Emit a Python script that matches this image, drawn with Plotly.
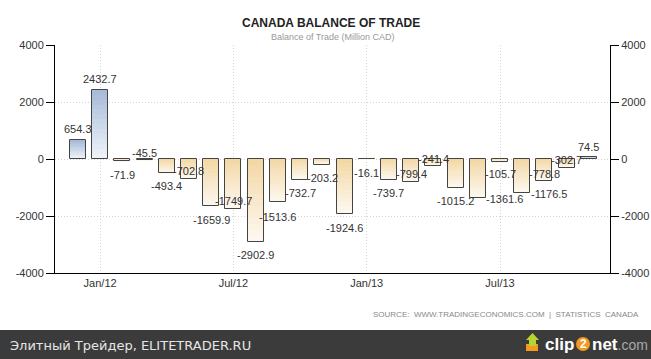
import plotly.graph_objects as go

# ---------------- data ----------------
months = ["Dec/11", "Jan/12", "Feb/12", "Mar/12", "Apr/12", "May/12", "Jun/12",
          "Jul/12", "Aug/12", "Sep/12", "Oct/12", "Nov/12", "Dec/12", "Jan/13",
          "Feb/13", "Mar/13", "Apr/13", "May/13", "Jun/13", "Jul/13", "Aug/13",
          "Sep/13", "Oct/13", "Nov/13"]
values = [654.3, 2432.7, -71.9, -45.5, -493.4, -702.8, -1659.9, -1749.7,
          -2902.9, -1513.6, -732.7, -203.2, -1924.6, -16.1, -739.7, -799.4,
          -241.4, -1015.2, -1361.6, -105.7, -1176.5, -778.8, -302.7, 74.5]
x_ticks = ["Jan/12", "Jul/12", "Jan/13", "Jul/13"]
y_ticks = [-4000, -2000, 0, 2000, 4000]

# label placement (pixel shifts relative to bar end), styling only
label_dx = [0, 0, 0, 0, 0, 0, 0, 0, 0, 0, 0, 0, 0, 0, 0, 0, 0, 0, 27, 0, 27, 0, 0, 0]
label_dy = [11, 11, -14, 7, -13, 8, -14, 8, -13, -15, -13, -13, -14, -14, -13, 8,
            7, -13, -1, -12, -1, 7, 8, 10]

# ---------------- geometry helpers (figure pixels -> paper) ----------------
W, H = 651, 359
L, R, T, B = 55, 41, 45, 86
PW, PH = W - L - R, H - T - B


def px(x):
    return (x - L) / PW


def py(y):
    return (H - B - y) / PH


def lerp(c1, c2, t):
    return "rgb(%d,%d,%d)" % tuple(round(a + (b - a) * t) for a, b in zip(c1, c2))


POS_TOP, POS_BOT = (165, 185, 215), (240, 244, 250)
NEG_TOP, NEG_BOT = (243, 215, 163), (253, 249, 242)

fig = go.Figure()

# gradient fill built from slices of each bar
N = 14
for k in range(N):
    t = (k + 0.5) / N
    bases, heights, colors = [], [], []
    for v in values:
        if v >= 0:
            bases.append(v * (1 - (k + 1) / N))
            colors.append(lerp(POS_TOP, POS_BOT, t))
        else:
            bases.append(v * k / N)
            colors.append(lerp(NEG_TOP, NEG_BOT, t))
        heights.append(v / N)
    fig.add_trace(go.Bar(x=months, y=heights, base=bases, width=0.72,
                         marker=dict(color=colors, line=dict(width=0)),
                         hoverinfo="skip", showlegend=False))

# outline
fig.add_trace(go.Bar(x=months, y=values, width=0.72,
                     marker=dict(color="rgba(0,0,0,0)",
                                 line=dict(color="#444444", width=1)),
                     showlegend=False))

# dummy trace for right axis
fig.add_trace(go.Scatter(x=months[:1], y=values[:1], yaxis="y2", mode="markers",
                         marker=dict(opacity=0), hoverinfo="skip", showlegend=False))

# data labels
for m, v, dx, dy in zip(months, values, label_dx, label_dy):
    fig.add_annotation(x=m, y=v, text=f"{v:.1f}", showarrow=False,
                       xanchor="center", yanchor="middle", xshift=dx, yshift=dy,
                       font=dict(family="Liberation Sans, Arial", size=11, color="#333"))

axis_font = dict(family="Liberation Sans, Arial", size=11, color="#333")
GRID = "#d4d4d4"

fig.update_layout(
    width=W, height=H,
    margin=dict(l=L, r=R, t=T, b=B, autoexpand=False),
    paper_bgcolor="white", plot_bgcolor="white",
    barmode="overlay", bargap=0,
    xaxis=dict(type="category", categoryorder="array", categoryarray=months,
               range=[-1.03, 23.95], tickvals=x_ticks, ticktext=x_ticks,
               showgrid=True, gridcolor=GRID, griddash="1px,2px", gridwidth=1,
               showline=True, linecolor="#000", linewidth=1,
               ticks="", tickfont=axis_font, zeroline=False, fixedrange=True),
    yaxis=dict(range=[-4000, 4000], tickvals=y_ticks, ticktext=[str(t) for t in y_ticks],
               showgrid=True, gridcolor=GRID, griddash="1px,2px", gridwidth=1,
               showline=True, linecolor="#000", linewidth=1,
               ticks="outside", ticklen=8, tickcolor="#000", tickwidth=1,
               tickfont=axis_font, zeroline=False, fixedrange=True),
    yaxis2=dict(range=[-4000, 4000], overlaying="y", side="right",
                tickvals=y_ticks, ticktext=[str(t) for t in y_ticks],
                showgrid=False, showline=True, linecolor="#000", linewidth=1,
                ticks="outside", ticklen=8, tickcolor="#000", tickwidth=1,
                tickfont=axis_font, zeroline=False, fixedrange=True),
)

# titles
fig.add_annotation(x=px(331), y=py(23), xref="paper", yref="paper", showarrow=False,
                   text="<b>CANADA BALANCE OF TRADE</b>", xanchor="center", yanchor="middle",
                   font=dict(family="Liberation Sans Narrow, Liberation Sans, Arial",
                             size=12, color="#222"))
fig.add_annotation(x=px(333), y=py(37), xref="paper", yref="paper", showarrow=False,
                   text="Balance of Trade (Million CAD)", xanchor="center", yanchor="middle",
                   font=dict(family="Liberation Sans, Arial", size=9, color="#999"))

# source
fig.add_annotation(x=px(641), y=py(314), xref="paper", yref="paper", showarrow=False,
                   text="SOURCE:&nbsp; WWW.TRADINGECONOMICS.COM &nbsp;|&nbsp; STATISTICS&nbsp; CANADA",
                   xanchor="right", yanchor="middle",
                   font=dict(family="Liberation Sans, Arial", size=8, color="#888"))

# bottom dark band
fig.add_shape(type="rect", xref="paper", yref="paper", x0=px(-5), x1=px(W + 5),
              y0=py(330), y1=py(H + 5), fillcolor="#3b3b3b", line=dict(width=0),
              layer="above")
fig.add_annotation(x=px(8), y=py(345), xref="paper", yref="paper", showarrow=False,
                   text="Элитный Трейдер, ELITETRADER.RU", xanchor="left", yanchor="middle",
                   font=dict(family="DejaVu Sans", size=13, color="#e6e6e6"))

# clip2net logo
fig.add_shape(type="rect", xref="paper", yref="paper", x0=px(526), x1=px(538),
              y0=py(351), y1=py(344), fillcolor="#f39a1e", line=dict(width=0), layer="above")
fig.add_shape(type="path", xref="paper", yref="paper",
              path="M %f %f L %f %f L %f %f L %f %f L %f %f L %f %f L %f %f Z" % (
                  px(529), py(346), px(529), py(340), px(526), py(340), px(532.5), py(333),
                  px(539), py(340), px(536), py(340), px(536), py(346)),
              fillcolor="#b7d332", line=dict(width=0), layer="above")
fig.add_annotation(x=px(576), y=py(344), xref="paper", yref="paper", showarrow=False,
                   text="<b>clip</b>", xanchor="right", yanchor="middle",
                   font=dict(family="Liberation Sans, Arial", size=17, color="#ffffff"))
fig.add_shape(type="circle", xref="paper", yref="paper", x0=px(576), x1=px(590),
              y0=py(351), y1=py(337), fillcolor="#f39a1e", line=dict(width=0),
              layer="above")
fig.add_annotation(x=px(583), y=py(344), xref="paper", yref="paper", showarrow=False,
                   text="<b>2</b>", xanchor="center", yanchor="middle",
                   font=dict(family="Liberation Sans, Arial", size=12, color="#ffffff"))
fig.add_annotation(x=px(590), y=py(344), xref="paper", yref="paper", showarrow=False,
                   text="<b>net</b><span style='color:#a8a8a8;font-size:14px'>.com</span>",
                   xanchor="left", yanchor="middle",
                   font=dict(family="Liberation Sans, Arial", size=17, color="#ffffff"))

fig.write_html("out.html", config={"displayModeBar": False},
               post_script="document.body.style.margin='0';document.body.style.padding='0';"
                           "document.body.style.overflow='hidden';")
